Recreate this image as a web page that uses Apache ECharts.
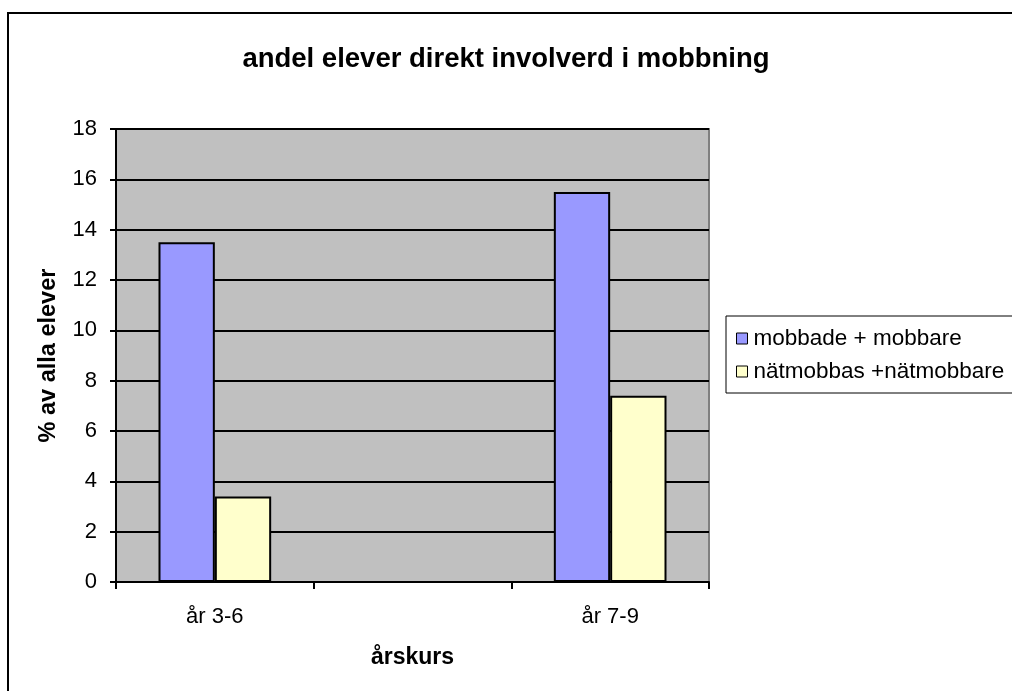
<!DOCTYPE html>
<html>
<head>
<meta charset="utf-8">
<script src="https://cdn.jsdelivr.net/npm/echarts@6/dist/echarts.min.js"></script>
<style>
  html, body { margin: 0; padding: 0; background: #fff; }
  #chart { width: 1012px; height: 691px; }
</style>
</head>
<body>
<div id="chart"></div>
<script>
  // arskurs categories, middle slot is empty in the original sheet
  var categories = ['år 3-6', '', 'år 7-9'];
  var mobbade = [13.5, null, 15.5];
  var natmobbas = [3.4, null, 7.4];
  var seriesNames = ['mobbade + mobbare', 'nätmobbas +nätmobbare'];

  var font = 'Liberation Sans, Arial, sans-serif';
  var myChart = echarts.init(document.getElementById('chart'));

  myChart.setOption({
    animation: false,
    backgroundColor: '#fff',
    textStyle: { fontFamily: font },
    title: {
      text: 'andel elever direkt involverd i mobbning',
      left: 'center',
      top: 45,
      padding: 0,
      textStyle: { fontFamily: font, fontSize: 27.5, fontWeight: 'bold', color: '#000' }
    },
    graphic: [
      {
        type: 'rect',
        shape: { x: 8, y: 13, width: 1100, height: 700 },
        style: { fill: 'none', stroke: '#000', lineWidth: 2 },
        z: 100
      }
    ],
    legend: {
      orient: 'vertical',
      left: 726,
      top: 316,
      padding: [11, 60, 10, 10],
      itemGap: 10,
      itemWidth: 11,
      itemHeight: 11,
      borderColor: '#000',
      borderWidth: 1,
      icon: 'rect',
      data: seriesNames,
      itemStyle: { borderColor: '#000', borderWidth: 1 },
      textStyle: { fontFamily: font, fontSize: 22.5, color: '#000', padding: [0, 0, 0, 1] }
    },
    grid: {
      left: 116,
      right: 303,
      top: 129,
      bottom: 109,
      show: true,
      backgroundColor: '#C0C0C0',
      borderColor: '#808080',
      borderWidth: 2
    },
    xAxis: {
      type: 'category',
      data: categories,
      name: 'årskurs',
      nameLocation: 'middle',
      nameGap: 64,
      nameTextStyle: { fontFamily: font, fontSize: 23, fontWeight: 'bold', color: '#000' },
      axisLine: { lineStyle: { color: '#000', width: 2 } },
      axisTick: { show: true, interval: 0, length: 7, lineStyle: { color: '#000', width: 2 } },
      axisLabel: { interval: 0, margin: 24, fontFamily: font, fontSize: 22, color: '#000' }
    },
    yAxis: {
      type: 'value',
      min: 0,
      max: 18,
      interval: 2,
      name: '% av alla elever',
      nameLocation: 'middle',
      nameGap: 55,
      nameTextStyle: { fontFamily: font, fontSize: 23.5, fontWeight: 'bold', color: '#000' },
      axisLine: { show: true, lineStyle: { color: '#000', width: 2 } },
      axisTick: { show: true, length: 6, lineStyle: { color: '#000', width: 2 } },
      axisLabel: { margin: 19, fontFamily: font, fontSize: 22, color: '#000' },
      splitLine: { show: true, lineStyle: { color: '#000', width: 2 } }
    },
    series: [
      {
        name: seriesNames[0],
        type: 'bar',
        data: mobbade,
        barGap: '0%',
        barCategoryGap: '43%',
        itemStyle: { color: '#9999FF', borderColor: '#000', borderWidth: 2 }
      },
      {
        name: seriesNames[1],
        type: 'bar',
        data: natmobbas,
        itemStyle: { color: '#FFFFCC', borderColor: '#000', borderWidth: 2 }
      }
    ]
  });
</script>
</body>
</html>
